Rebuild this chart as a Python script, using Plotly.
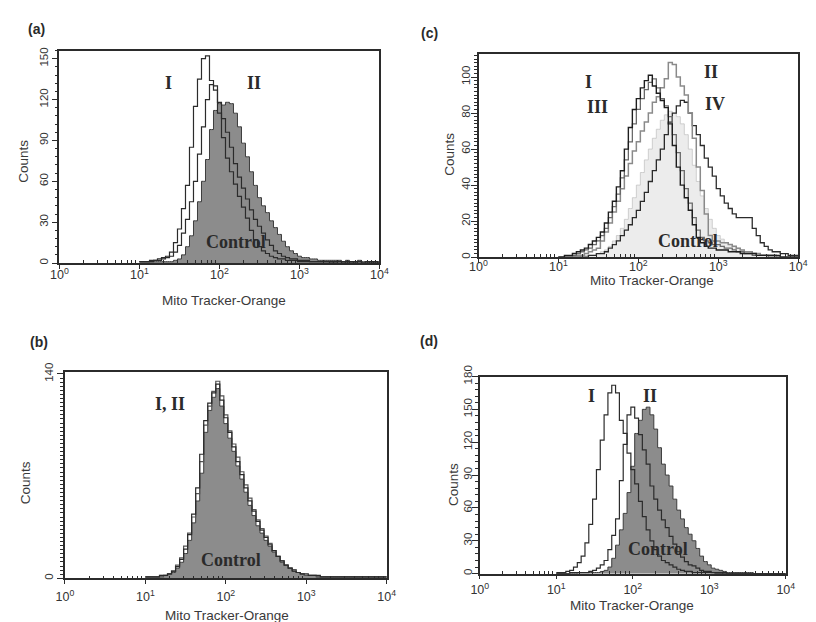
import plotly.graph_objects as go

# ---------------- data (counts per log-channel, log10 x = 1.00, 1.05, ... 4.00) ----------------
LOG_START = 1.0
LOG_STEP = 0.05

# panel (a)
a_I = [1, 1, 1, 2, 2, 3, 4, 5, 8, 15,
       25, 40, 57, 85, 115, 135, 150, 152, 134, 127,
       110, 92, 77, 67, 58, 49, 41, 33, 24, 17,
       12, 9, 7, 5, 4, 3, 3, 2, 2, 2,
       1, 1, 1, 1, 1, 1, 1, 1, 0, 1,
       1, 0, 1, 0, 1, 1, 0, 1, 0, 1, 0]
a_II = [1, 1, 1, 1, 2, 2, 3, 4, 5, 8,
        13, 22, 32, 45, 60, 80, 100, 120, 131, 130,
        118, 106, 96, 85, 73, 63, 55, 47, 39, 32,
        27, 22, 17, 13, 9, 7, 5, 4, 3, 3,
        2, 2, 2, 1, 1, 1, 1, 1, 1, 0,
        1, 1, 0, 1, 0, 1, 0, 0, 1, 0, 0]
a_Control = [1, 1, 1, 1, 1, 1, 1, 1, 1, 2,
             3, 6, 12, 20, 31, 45, 60, 76, 98, 112,
             117, 116, 118, 117, 110, 100, 88, 78, 67, 57,
             48, 42, 37, 31, 26, 21, 16, 12, 9, 7,
             5, 4, 4, 3, 3, 2, 2, 2, 2, 2,
             2, 1, 2, 1, 1, 2, 1, 1, 1, 1, 1]

# panel (b)
b_I = [1, 1, 1, 1, 2, 2, 3, 5, 8, 13,
       20, 30, 44, 62, 85, 108, 120, 127, 133, 122,
       110, 100, 90, 80, 71, 62, 53, 46, 39, 33,
       28, 23, 19, 15, 12, 9, 7, 5, 4, 3,
       3, 2, 2, 2, 1, 1, 1, 1, 1, 1,
       1, 1, 1, 1, 1, 1, 1, 1, 1, 1, 1]
b_II = [1, 1, 1, 1, 1, 2, 3, 5, 9, 14,
        22, 31, 42, 58, 80, 105, 118, 128, 135, 125,
        112, 101, 92, 83, 73, 64, 55, 47, 40, 34,
        29, 24, 19, 15, 12, 9, 7, 6, 4, 3,
        2, 2, 2, 1, 1, 1, 1, 1, 1, 1,
        1, 1, 1, 1, 1, 1, 1, 1, 1, 1, 1]
b_Control = [1, 1, 1, 1, 2, 2, 3, 4, 7, 11,
             17, 26, 38, 53, 72, 100, 115, 124, 130, 118,
             106, 96, 87, 77, 68, 59, 50, 43, 36, 31,
             26, 22, 18, 15, 11, 9, 7, 5, 4, 3,
             2, 2, 2, 1, 1, 1, 1, 1, 1, 1,
             1, 1, 1, 1, 1, 1, 1, 1, 1, 1, 1]

# panel (c)
c_I = [0, 0, 1, 1, 2, 3, 4, 5, 7, 9,
       11, 14, 19, 25, 31, 39, 48, 60, 72, 82,
       88, 94, 98, 101, 95, 91, 87, 83, 74, 62,
       50, 40, 33, 26, 18, 11, 8, 6, 5, 5,
       4, 4, 4, 3, 3, 3, 2, 2, 2, 2,
       1, 1, 1, 1, 1, 1, 0, 0, 0, 0, 0]
c_III = [0, 0, 0, 0, 1, 2, 3, 4, 5, 7,
         9, 12, 16, 22, 28, 35, 44, 54, 64, 74,
         82, 88, 93, 97, 99, 94, 88, 84, 78, 68,
         58, 48, 38, 30, 22, 15, 11, 9, 8, 7,
         7, 6, 5, 5, 4, 3, 3, 2, 2, 1,
         1, 1, 1, 0, 0, 0, 0, 0, 0, 0, 0]
c_II = [0, 0, 0, 0, 0, 1, 1, 2, 3, 4,
        5, 9, 14, 19, 25, 31, 38, 45, 52, 59,
        64, 70, 75, 80, 86, 89, 94, 99, 108, 107,
        100, 95, 90, 80, 66, 50, 37, 24, 12, 9,
        9, 8, 8, 7, 6, 5, 4, 3, 3, 2,
        2, 1, 1, 1, 1, 0, 0, 0, 0, 0, 0]
c_IV = [0, 0, 0, 0, 0, 0, 0, 0, 1, 1,
        2, 2, 3, 5, 7, 9, 12, 15, 18, 22,
        26, 31, 36, 42, 48, 54, 60, 68, 75, 80,
        84, 87, 86, 80, 73, 68, 62, 55, 50, 45,
        38, 34, 30, 27, 24, 22, 22, 22, 22, 16,
        12, 8, 6, 4, 3, 3, 2, 2, 1, 1, 1]
c_Control = [0, 0, 0, 0, 0, 0, 1, 1, 1, 1,
             2, 3, 4, 6, 9, 12, 16, 21, 27, 33,
             40, 47, 54, 60, 66, 71, 76, 79, 81, 80,
             78, 74, 68, 60, 51, 42, 34, 27, 21, 16,
             12, 10, 8, 7, 6, 5, 4, 3, 3, 2,
             2, 1, 1, 1, 1, 1, 0, 0, 0, 0, 0]

# panel (d)
d_I = [1, 1, 1, 2, 3, 6, 10, 16, 28, 45,
       68, 95, 122, 145, 165, 172, 165, 140, 128, 110,
       95, 82, 66, 52, 40, 30, 22, 16, 12, 10,
       8, 6, 4, 3, 2, 2, 1, 1, 1, 1,
       1, 1, 0, 0, 1, 0, 0, 0, 0, 0,
       0, 0, 0, 0, 0, 0, 0, 0, 0, 0, 0]
d_II = [0, 0, 0, 0, 1, 1, 1, 1, 1, 2,
        3, 5, 8, 12, 22, 35, 50, 85, 118, 145,
        152, 142, 127, 113, 100, 80, 68, 58, 49, 42,
        34, 27, 20, 15, 11, 8, 7, 5, 3, 2,
        2, 1, 1, 1, 0, 0, 0, 0, 0, 0,
        0, 0, 0, 0, 0, 0, 0, 0, 0, 0, 0]
d_Control = [0, 0, 0, 0, 0, 0, 1, 1, 1, 1,
             1, 1, 2, 3, 6, 14, 26, 40, 55, 74,
             98, 128, 140, 150, 152, 145, 132, 115, 100, 90,
             80, 68, 58, 50, 42, 36, 30, 23, 16, 11,
             8, 5, 4, 3, 2, 1, 1, 1, 1, 1,
             1, 1, 0, 0, 0, 0, 0, 0, 0, 0, 0]

X_TICKS = [1, 10, 100, 1000, 10000]
X_TICKTEXT = ["10<sup>0</sup>", "10<sup>1</sup>", "10<sup>2</sup>", "10<sup>3</sup>", "10<sup>4</sup>"]
X_TITLE = "Mito Tracker-Orange"
Y_TITLE = "Counts"

# ---------------- layout helpers ----------------
W, H = 816, 622


def fx(px):
    return px / W


def fy(py):
    return 1 - py / H


def xs_for(vals):
    return [10 ** (LOG_START + LOG_STEP * i) for i in range(len(vals))]


SANS = "Liberation Sans, Arial, sans-serif"
SERIF = "Liberation Serif, Times New Roman, serif"
DARK = "#2b2b2b"

fig = go.Figure()

# panel boxes (pixel positions of the plot frames) and axis settings
panels = {
    "a": dict(ax="", l=51.7, r=379.3, t=40.3, b=257.0, ytop=156, yt=[0, 30, 60, 90, 120, 150], md=6,
              xso=-5, yso=-1),
    "c": dict(ax="2", l=480.7, r=808.0, t=44.0, b=251.0, ytop=112.7, yt=[0, 20, 40, 60, 80, 100], md=2,
              xso=-7, yso=-4),
    "b": dict(ax="3", l=57.3, r=386.7, t=368.3, b=578.5, ytop=141.2, yt=[0, 140], md=2.8,
              xso=2, yso=0),
    "d": dict(ax="4", l=482.0, r=795.3, t=372.7, b=573.7, ytop=180, yt=[0, 30, 60, 90, 120, 150, 180], md=6,
              xso=0, yso=-5),
}

GRAY_FILL = "#8c8c8c"
LIGHT_FILL = "#ececec"


def add_curve(panel, vals, color, width=1.2, fill=None, name=""):
    ax = panels[panel]["ax"]
    kw = {}
    if fill:
        kw = dict(fill="tozeroy", fillcolor=fill)
    fig.add_trace(go.Scatter(
        x=xs_for(vals), y=vals, mode="lines", line=dict(color=color, width=width, shape="hvh"),
        xaxis="x" + ax, yaxis="y" + ax, showlegend=False, name=name, hoverinfo="skip", **kw))


# (a)
add_curve("a", a_Control, "#3c3c3c", 1.0, GRAY_FILL, "Control")
add_curve("a", a_II, DARK, 1.2, None, "II")
add_curve("a", a_I, DARK, 1.2, None, "I")
# (b)
add_curve("b", b_Control, "#3c3c3c", 1.0, GRAY_FILL, "Control")
add_curve("b", b_II, "#555555", 1.2, None, "II")
add_curve("b", b_I, DARK, 1.2, None, "I")
# (c)
add_curve("c", c_Control, "#c4c4c4", 0.8, LIGHT_FILL, "Control")
add_curve("c", c_IV, DARK, 1.3, None, "IV")
add_curve("c", c_II, "#8a8a8a", 1.5, None, "II")
add_curve("c", c_III, "#6a6a6a", 1.3, None, "III")
add_curve("c", c_I, "#1e1e1e", 1.4, None, "I")
# (d)
add_curve("d", d_Control, "#3c3c3c", 1.0, GRAY_FILL, "Control")
add_curve("d", d_II, DARK, 1.2, None, "II")
add_curve("d", d_I, DARK, 1.2, None, "I")

minor_x = [k * 10 ** d for d in range(4) for k in range(2, 10)]

layout = dict(
    width=W, height=H, margin=dict(l=0, r=0, t=0, b=0),
    paper_bgcolor="white", plot_bgcolor="white", showlegend=False,
)

for key, p in panels.items():
    ax = p["ax"]
    layout["xaxis" + ax] = dict(
        type="log", range=[0, 4], domain=[fx(p["l"]), fx(p["r"])], anchor="y" + ax,
        tickmode="array", tickvals=X_TICKS, ticktext=X_TICKTEXT,
        ticks="outside", ticklen=4, tickwidth=1.2, tickcolor=DARK,
        ticklabelstandoff=p["xso"],
        showline=True, mirror=True, linecolor=DARK, linewidth=1.6,
        showgrid=False, zeroline=False,
        tickfont=dict(family=SANS, size=12.5, color="#333333"),
        minor=dict(tickvals=minor_x, ticks="inside", ticklen=3, tickcolor=DARK, tickwidth=1),
    )
    layout["yaxis" + ax] = dict(
        range=[0, p["ytop"]], domain=[fy(p["b"]), fy(p["t"])], anchor="x" + ax,
        tickmode="array", tickvals=p["yt"], ticktext=[str(v) for v in p["yt"]],
        ticks="outside", ticklen=6, tickwidth=1.2, tickcolor=DARK, tickangle=-90,
        ticklabelstandoff=p["yso"],
        showline=True, mirror=True, linecolor=DARK, linewidth=1.6,
        showgrid=False, zeroline=False,
        tickfont=dict(family=SANS, size=11.5, color="#333333"),
        minor=dict(dtick=p["md"], tick0=0, ticks="outside", ticklen=3, tickcolor=DARK, tickwidth=1),
    )

fig.update_layout(**layout)

ann = []


def text(xpx, ypx, s, font, size, angle=0, bold=False, color="#2a2a2a"):
    if bold:
        s = "<b>" + s + "</b>"
    ann.append(dict(x=fx(xpx), y=fy(ypx), xref="paper", yref="paper", text=s, showarrow=False,
                    xanchor="center", yanchor="middle", textangle=angle,
                    font=dict(family=font, size=size, color=color)))


# panel letters
text(28, 18, "(a)", SANS, 14, bold=True)
text(431, 22, "(c)", SANS, 14, bold=True)
text(31, 338, "(b)", SANS, 14, bold=True)
text(430, 336, "(d)", SANS, 14, bold=True)

# axis titles
text(220, 295, X_TITLE, SANS, 13.5, color="#3a3a3a")
text(658, 275, X_TITLE, SANS, 13.5, color="#3a3a3a")
text(223, 616, X_TITLE, SANS, 13.5, color="#3a3a3a")
text(638, 606, X_TITLE, SANS, 13.5, color="#3a3a3a")
text(14, 153, Y_TITLE, SANS, 13.5, angle=-90, color="#3a3a3a")
text(451, 146, Y_TITLE, SANS, 13.5, angle=-90, color="#3a3a3a")
text(17, 481, Y_TITLE, SANS, 13.5, angle=-90, color="#3a3a3a")
text(455, 483, Y_TITLE, SANS, 13.5, angle=-90, color="#3a3a3a")

# curve labels
text(163, 73, "I", SERIF, 18, bold=True)
text(251, 73, "II", SERIF, 18, bold=True)
text(232, 236, "Control", SERIF, 18, bold=True)

text(593, 72, "I", SERIF, 18, bold=True)
text(603, 98, "III", SERIF, 18, bold=True)
text(719, 62, "II", SERIF, 18, bold=True)
text(723, 95, "IV", SERIF, 18, bold=True)
text(695, 235, "Control", SERIF, 18, bold=True)

text(165, 401, "I, II", SERIF, 18, bold=True)
text(227, 560, "Control", SERIF, 18, bold=True)

text(596, 393, "I", SERIF, 18, bold=True)
text(656, 393, "II", SERIF, 18, bold=True)
text(664, 549, "Control", SERIF, 18, bold=True)

fig.update_layout(annotations=ann)

fig.write_html("out.html")
